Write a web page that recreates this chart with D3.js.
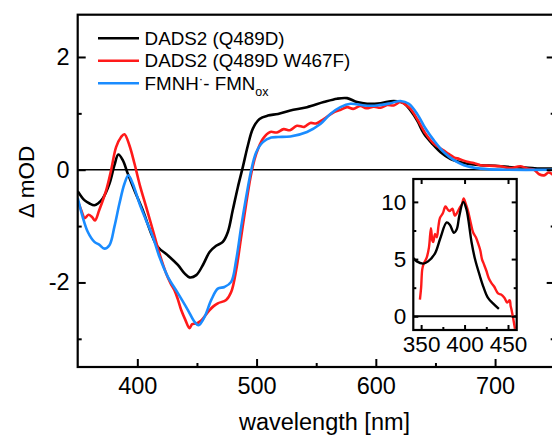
<!DOCTYPE html>
<html>
<head>
<meta charset="utf-8">
<script src="https://cdn.jsdelivr.net/npm/d3@7"></script>
<style>
  body { margin: 0; background: #fff; }
  svg { font-family: Arial, 'Liberation Sans', sans-serif; }
</style>
</head>
<body>
<div class="chart"></div>
<script>
// main plot, [wavelength nm, delta mOD]
var dads2 = [[350,-0.38],[355.6,-0.54],[360,-0.60],[364,-0.63],[367,-0.60],[371,-0.51],[376.6,-0.25],[380.8,0.08],[384.1,0.27],[387.8,0.17],[392,-0.07],[397.6,-0.37],[404.6,-0.72],[411.6,-1.13],[417.2,-1.37],[425.6,-1.52],[434,-1.69],[439.6,-1.84],[443.8,-1.91],[449.4,-1.87],[455,-1.69],[460.6,-1.46],[466.1,-1.35],[471.7,-1.28],[476,-1.10],[480,-0.72],[484.3,-0.31],[488.5,0.05],[492.7,0.43],[496.9,0.73],[502.5,0.90],[509.5,0.96],[518,0.99],[528.3,1.05],[542.3,1.11],[556.3,1.20],[567.5,1.26],[575.9,1.27],[584.3,1.20],[592.7,1.17],[603.9,1.18],[615.1,1.22],[623.5,1.18],[629.1,1.05],[634.7,0.87],[640.3,0.64],[647.3,0.46],[654.3,0.31],[662.7,0.19],[673.9,0.12],[687.9,0.08],[700,0.07],[710.3,0.05],[725,0.04],[738.3,0.02],[750,0.02]]

var dads2W467F = [[350,-0.55],[353,-0.72],[356,-0.86],[359,-0.80],[362,-0.84],[364.5,-0.90],[368,-0.72],[373.8,-0.37],[378,-0.01],[382.2,0.40],[386.4,0.58],[389.2,0.63],[393.4,0.43],[397.6,0.11],[401.8,-0.25],[407.4,-0.66],[413,-1.07],[418.6,-1.49],[424.2,-1.84],[428,-2.02],[431.2,-2.14],[434,-2.30],[436.8,-2.49],[440,-2.65],[443.8,-2.81],[446,-2.74],[449.4,-2.73],[452,-2.70],[455,-2.64],[460.6,-2.49],[464,-2.42],[467.5,-2.37],[474.5,-2.31],[478.7,-2.17],[482.9,-1.78],[487.1,-1.19],[491.3,-0.60],[495.5,-0.07],[499.7,0.28],[505.3,0.55],[511.5,0.67],[517,0.66],[522.7,0.72],[528,0.70],[533.9,0.78],[540,0.76],[545.1,0.83],[550,0.82],[556.3,0.90],[564.7,1.02],[570,1.06],[575.9,1.11],[581,1.08],[587.1,1.13],[592,1.09],[598.3,1.12],[604,1.10],[609.5,1.15],[615,1.14],[620.7,1.20],[625,1.15],[629.1,1.08],[634.7,0.90],[641.7,0.64],[648.7,0.46],[657.1,0.34],[661,0.28],[665.5,0.22],[670,0.19],[676.7,0.14],[682,0.12],[687.9,0.08],[695,0.07],[704.7,0.06],[712,0.03],[721.5,0.06],[727,0.02],[732.7,0.0],[737,-0.08],[741.1,-0.10],[745,-0.05],[750,-0.12]]

var fmnDiff = [[350,-0.50],[354.2,-0.84],[358.4,-1.10],[364,-1.28],[368,-1.33],[372.4,-1.40],[376.6,-1.34],[380.8,-1.01],[385,-0.60],[389.2,-0.25],[392.5,-0.10],[396.2,-0.25],[401.8,-0.60],[407.4,-0.90],[413,-1.19],[418.6,-1.55],[425.6,-1.90],[434,-2.19],[442.4,-2.49],[448,-2.70],[451.3,-2.76],[456.4,-2.61],[462,-2.31],[467.5,-2.11],[473.1,-2.08],[478.7,-1.99],[482.9,-1.60],[487.1,-1.01],[491.3,-0.48],[495.5,-0.01],[499.7,0.31],[505.3,0.49],[512.3,0.57],[518,0.58],[528.3,0.59],[542.3,0.67],[553.5,0.81],[561.9,0.99],[570.3,1.11],[578.7,1.17],[589.9,1.14],[601.1,1.14],[612.3,1.18],[620.7,1.22],[627.7,1.17],[634.7,0.99],[641.7,0.73],[648.7,0.52],[657.1,0.31],[665.5,0.17],[673.9,0.08],[687.9,0.02],[710.3,0.0],[750,0.0]]

// inset
var insetBlack = [[341,5.1],[345,4.8],[352.5,4.6],[358,4.8],[366,5.5],[372,6.8],[379.4,8.2],[383,8.0],[387.8,7.3],[391,7.6],[394,8.8],[398.5,10.0],[402,9.4],[408,6.5],[412,5.0],[417.7,3.5],[422,2.5],[427,1.6],[433,1.1],[439.5,0.64]]
var insetRed = [[348.6,1.45],[350,2.5],[351.3,4.1],[353,4.6],[356.3,5.1],[359,6.0],[361.3,7.7],[363,6.6],[364,6.5],[366,7.2],[368,6.9],[370,7.9],[371.7,8.6],[375,9.0],[378,9.6],[381,9.3],[383,9.2],[386,9.4],[388.7,8.8],[391,9.0],[394.5,9.5],[397,9.8],[399,10.3],[401,9.9],[404,9.2],[407,8.2],[410,7.3],[413,6.9],[415.5,6.4],[418,5.8],[420,5.0],[422,4.6],[425,4.0],[428,3.3],[431,2.9],[434,2.6],[438.5,2.0],[442,1.9],[446,1.6],[449,1.2],[452,1.4],[453,0.9],[454,0.6],[456,-0.2],[458,-1.1]]

var xTicks = [400, 500, 600, 700]
var xMinor = [450, 550, 650]
var yTicks = [-2, 0, 2]
var yMinor = [-3, -1, 1]
var insetXTicks = [350, 400, 450]
var insetXMinor = [375, 425]
var insetYTicks = [0, 5, 10]
var insetYMinor = [2.5, 7.5]

var legendLabels = ['DADS2 (Q489D)', 'DADS2 (Q489D W467F)', 'FMNH']
var colors = ['#000000', '#ff1a1a', '#1a8cff']

var svg = d3.select('.chart')
  .append('svg')
    .attr('width', 552)
    .attr('height', 437)

var x = d3.scaleLinear().domain([350, 750]).range([77.7, 554.7])
var y = d3.scaleLinear().domain([-3.5, 2.75]).range([367, 14.7])

// plain hyphen for negatives, like the original
var plain = d => String(d)

svg.append('defs').append('clipPath').attr('id', 'clip')
  .append('rect')
    .attr('x', x(350)).attr('y', y(2.75))
    .attr('width', x(750) - x(350)).attr('height', y(-3.5) - y(2.75))

// zero line
svg.append('line')
  .attr('x1', x(350)).attr('x2', x(750))
  .attr('y1', y(0)).attr('y2', y(0))
  .style('stroke', '#000').style('stroke-width', 1.6)

var line = d3.line()
  .x(d => x(d[0]))
  .y(d => y(d[1]))
  .curve(d3.curveCatmullRom.alpha(0.5))

var curves = svg.append('g').attr('clip-path', 'url(#clip)')
;[dads2, dads2W467F, fmnDiff].forEach(function (s, i) {
  curves.append('path')
    .attr('d', line(s))
    .style('fill', 'none')
    .style('stroke', colors[i])
    .style('stroke-width', 2.6)
    .style('stroke-linejoin', 'round')
})

// axes with inward ticks
function styleAxis (g, size) {
  g.select('.domain').remove()
  g.selectAll('line').style('stroke', '#000').style('stroke-width', 2)
  g.selectAll('text').style('font-size', size + 'px').style('fill', '#000')
  return g
}

svg.append('g')
  .attr('transform', `translate(0,${y(-3.5)})`)
  .call(d3.axisBottom(x).tickValues(xTicks).tickSizeInner(-8).tickSizeOuter(0).tickPadding(10).tickFormat(plain))
  .call(styleAxis, 23.5)
svg.append('g')
  .attr('transform', `translate(0,${y(-3.5)})`)
  .call(d3.axisBottom(x).tickValues(xMinor).tickSizeInner(-4).tickSizeOuter(0).tickFormat(''))
  .call(styleAxis, 23)

svg.append('g')
  .attr('transform', `translate(${x(350)},0)`)
  .call(d3.axisLeft(y).tickValues(yTicks).tickSizeInner(-8).tickSizeOuter(0).tickPadding(8).tickFormat(plain))
  .call(styleAxis, 23.5)
svg.append('g')
  .attr('transform', `translate(${x(350)},0)`)
  .call(d3.axisLeft(y).tickValues(yMinor).tickSizeInner(-4).tickSizeOuter(0).tickFormat(''))
  .call(styleAxis, 23)

svg.append('g')
  .attr('transform', `translate(${x(750)},0)`)
  .call(d3.axisRight(y).tickValues(yTicks).tickSizeInner(-8).tickSizeOuter(0).tickFormat(''))
  .call(styleAxis, 23)
svg.append('g')
  .attr('transform', `translate(${x(750)},0)`)
  .call(d3.axisRight(y).tickValues(yMinor).tickSizeInner(-4).tickSizeOuter(0).tickFormat(''))
  .call(styleAxis, 23)

// frame
svg.append('rect')
  .attr('x', x(350)).attr('y', y(2.75))
  .attr('width', x(750) - x(350)).attr('height', y(-3.5) - y(2.75))
  .style('fill', 'none').style('stroke', '#000').style('stroke-width', 2.2)

// axis titles
svg.append('text')
  .attr('x', 324.5).attr('y', 430)
  .attr('text-anchor', 'middle')
  .style('font-size', '23.5px')
  .text('wavelength [nm]')

svg.append('text')
  .attr('transform', 'translate(34,182) rotate(-90)')
  .attr('text-anchor', 'middle')
  .style('font-size', '22.5px')
  .text('Δ mOD')

// legend
var legend = svg.append('g').selectAll('g')
  .data(legendLabels)
  .enter()
    .append('g')
    .attr('transform', (d, i) => `translate(98, ${38.3 + i * 22.5})`)

legend.append('line')
  .attr('x1', 0).attr('x2', 41)
  .style('stroke', (d, i) => colors[i])
  .style('stroke-width', 2.6)

var ltext = legend.append('text')
  .attr('x', 46.6)
  .attr('y', 6.6)
  .style('font-size', '18.8px')
  .text(d => d)

var third = d3.select(ltext.nodes()[2])
third.append('tspan').attr('dy', -7).style('font-size', '13px').text('·')
third.append('tspan').attr('dy', 7).text('- FMN')
third.append('tspan').attr('dy', 6).style('font-size', '12.5px').text('ox')

// inset
var ix = d3.scaleLinear().domain([341, 460]).range([413.3, 516.7])
var iy = d3.scaleLinear().domain([-1.2, 12]).range([330, 179])

svg.append('rect')
  .attr('x', ix(341)).attr('y', iy(12))
  .attr('width', ix(460) - ix(341)).attr('height', iy(-1.2) - iy(12))
  .style('fill', '#fff')

svg.append('defs').append('clipPath').attr('id', 'iclip')
  .append('rect')
    .attr('x', ix(341)).attr('y', iy(12))
    .attr('width', ix(460) - ix(341)).attr('height', iy(-1.2) - iy(12))

svg.append('line')
  .attr('x1', ix(341)).attr('x2', ix(460))
  .attr('y1', iy(0)).attr('y2', iy(0))
  .style('stroke', '#000').style('stroke-width', 2)

var iline = d3.line()
  .x(d => ix(d[0]))
  .y(d => iy(d[1]))
  .curve(d3.curveCatmullRom.alpha(0.5))

var icurves = svg.append('g').attr('clip-path', 'url(#iclip)')
icurves.append('path')
  .attr('d', iline(insetRed))
  .style('fill', 'none').style('stroke', colors[1]).style('stroke-width', 2.4)
icurves.append('path')
  .attr('d', iline(insetBlack))
  .style('fill', 'none').style('stroke', colors[0]).style('stroke-width', 2.4)

svg.append('g')
  .attr('transform', `translate(0,${iy(-1.2)})`)
  .call(d3.axisBottom(ix).tickValues(insetXTicks).tickSizeInner(-5).tickSizeOuter(0).tickPadding(6).tickFormat(plain))
  .call(styleAxis, 22.5)
svg.append('g')
  .attr('transform', `translate(0,${iy(-1.2)})`)
  .call(d3.axisBottom(ix).tickValues(insetXMinor).tickSizeInner(-3).tickSizeOuter(0).tickFormat(''))
  .call(styleAxis, 21)
svg.append('g')
  .attr('transform', `translate(0,${iy(12)})`)
  .call(d3.axisTop(ix).tickValues(insetXTicks).tickSizeInner(-5).tickSizeOuter(0).tickFormat(''))
  .call(styleAxis, 21)
svg.append('g')
  .attr('transform', `translate(${ix(341)},0)`)
  .call(d3.axisLeft(iy).tickValues(insetYTicks).tickSizeInner(-5).tickSizeOuter(0).tickPadding(7).tickFormat(plain))
  .call(styleAxis, 22.5)
svg.append('g')
  .attr('transform', `translate(${ix(341)},0)`)
  .call(d3.axisLeft(iy).tickValues(insetYMinor).tickSizeInner(-3).tickSizeOuter(0).tickFormat(''))
  .call(styleAxis, 21)
svg.append('g')
  .attr('transform', `translate(${ix(460)},0)`)
  .call(d3.axisRight(iy).tickValues(insetYTicks).tickSizeInner(-5).tickSizeOuter(0).tickFormat(''))
  .call(styleAxis, 21)
svg.append('g')
  .attr('transform', `translate(${ix(460)},0)`)
  .call(d3.axisRight(iy).tickValues(insetYMinor).tickSizeInner(-3).tickSizeOuter(0).tickFormat(''))
  .call(styleAxis, 21)

svg.append('rect')
  .attr('x', ix(341)).attr('y', iy(12))
  .attr('width', ix(460) - ix(341)).attr('height', iy(-1.2) - iy(12))
  .style('fill', 'none').style('stroke', '#000').style('stroke-width', 2.2)
</script>
</body>
</html>
